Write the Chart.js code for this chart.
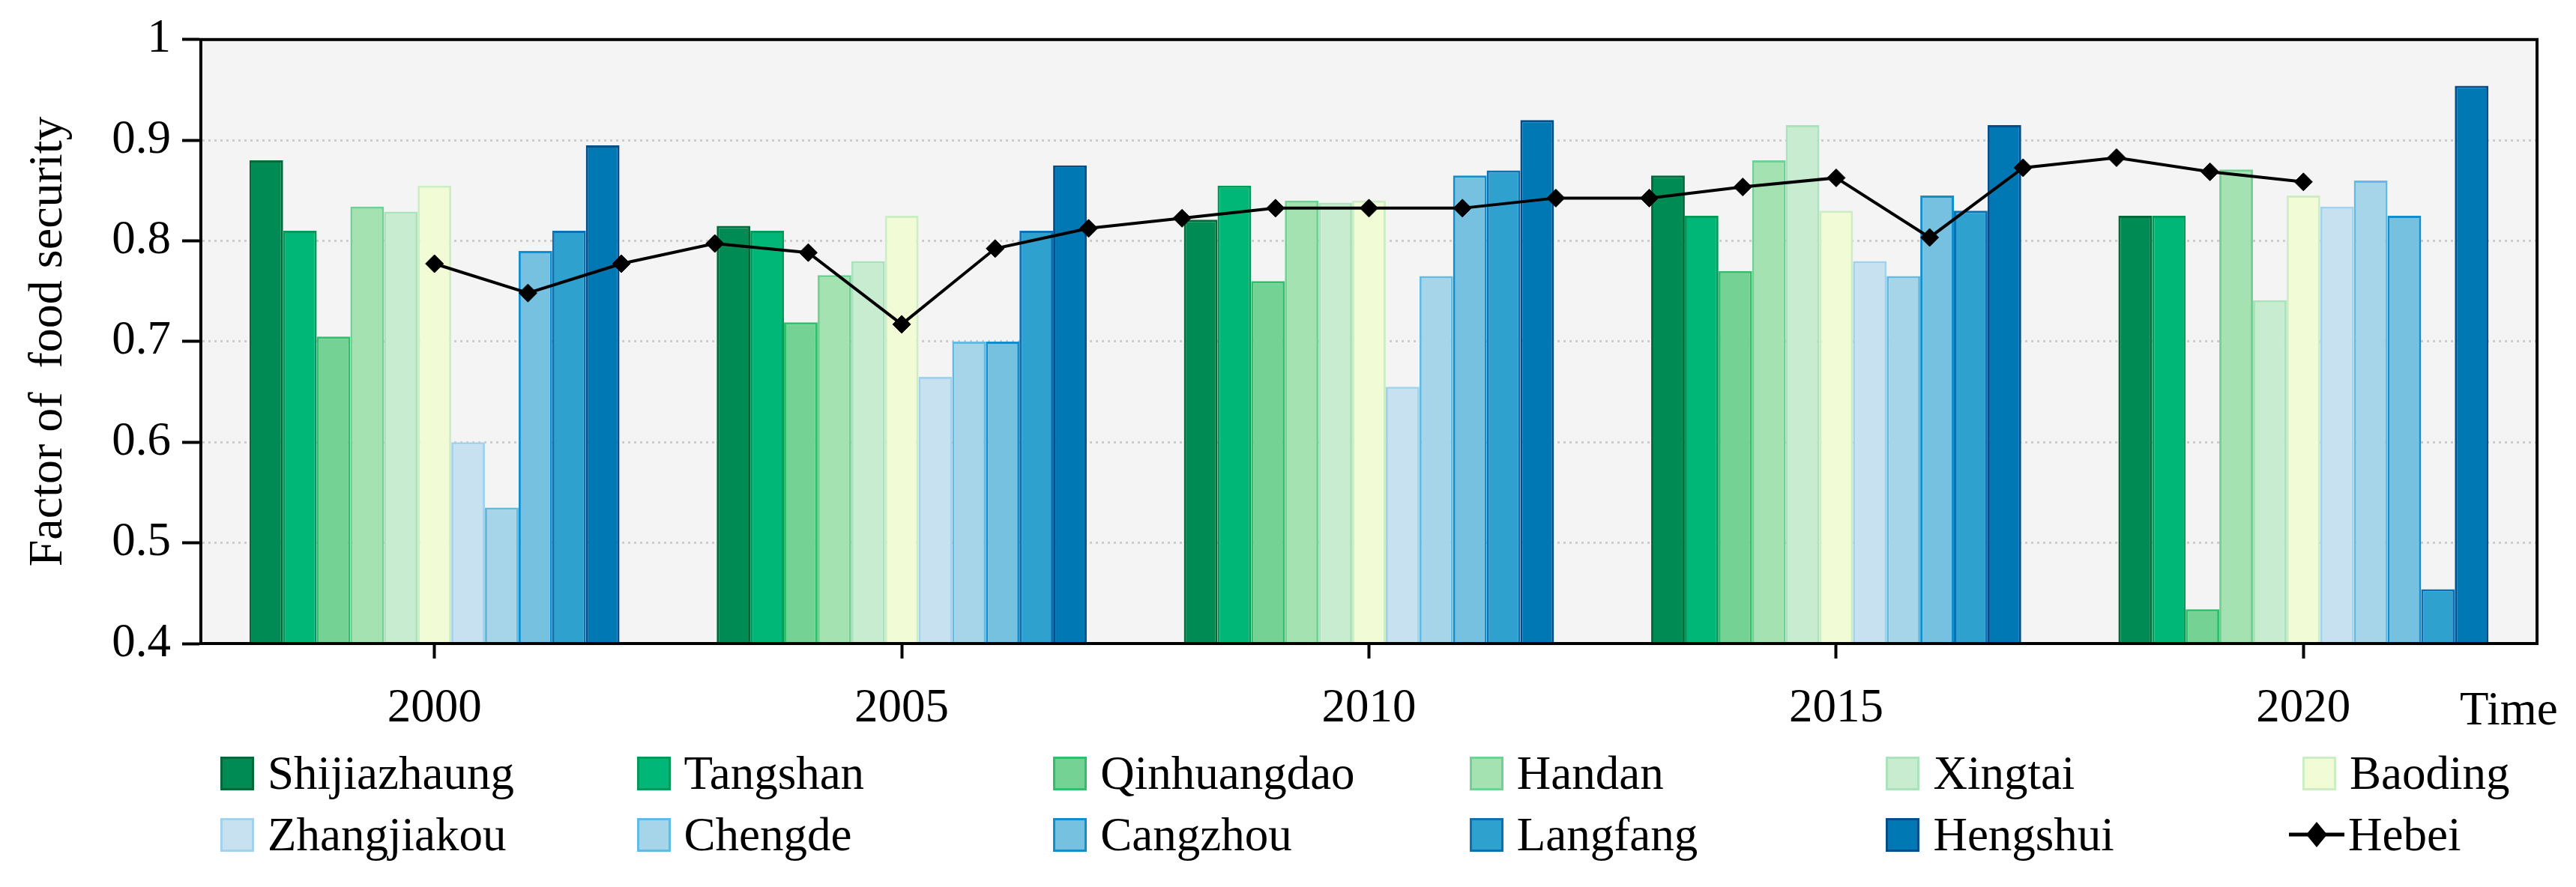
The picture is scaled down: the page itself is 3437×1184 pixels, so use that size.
<!DOCTYPE html>
<html>
<head>
<meta charset="utf-8">
<script src="https://cdn.jsdelivr.net/npm/chart.js@4.4.1/dist/chart.umd.min.js"></script>
<style>
  html, body { margin: 0; padding: 0; background: #fff; }
  #wrap { position: relative; width: 3437px; height: 1184px; overflow: hidden; }
  .layer { position: absolute; left: 0; top: 0; width: 3437px; height: 1184px; }
  #legend { pointer-events: none; font-family: "Liberation Serif", "Times New Roman", serif; font-size: 63px; color: #000; }
  .item { position: absolute; display: flex; align-items: center; height: 80px; white-space: nowrap; }
  .box { width: 45px; height: 45px; box-sizing: border-box; border: 3px solid; margin-right: 18px; }
</style>
</head>
<body>
<div id="wrap">
  <div class="layer"><canvas id="barChart"></canvas></div>
  <div class="layer"><canvas id="lineChart"></canvas></div>
  <div class="layer" id="legend"></div>
</div>
<script>
/* ── Food security factor, Hebei cities, 2000–2020 ── */
const FONT = '"Liberation Serif", "Times New Roman", serif';

const years = ["2000", "2005", "2010", "2015", "2020"];

const shijiazhaung = [0.880, 0.815, 0.821, 0.865, 0.825];
const tangshan     = [0.810, 0.810, 0.855, 0.825, 0.825];
const qinhuangdao  = [0.705, 0.719, 0.760, 0.770, 0.434];
const handan       = [0.834, 0.766, 0.840, 0.880, 0.871];
const xingtai      = [0.829, 0.780, 0.838, 0.915, 0.741];
const baoding      = [0.855, 0.825, 0.840, 0.830, 0.845];
const zhangjiakou  = [0.600, 0.665, 0.655, 0.780, 0.834];
const chengde      = [0.535, 0.700, 0.765, 0.765, 0.860];
const cangzhou     = [0.790, 0.700, 0.865, 0.845, 0.825];
const langfang     = [0.810, 0.810, 0.870, 0.830, 0.454];
const hengshui     = [0.895, 0.875, 0.920, 0.915, 0.954];

const hebeiYears = [2000, 2001, 2002, 2003, 2004, 2005, 2006, 2007, 2008, 2009, 2010,
                    2011, 2012, 2013, 2014, 2015, 2016, 2017, 2018, 2019, 2020];
const hebei = [0.776, 0.747, 0.776, 0.796, 0.787, 0.716, 0.791, 0.811, 0.821, 0.831, 0.831,
               0.831, 0.841, 0.841, 0.852, 0.861, 0.802, 0.871, 0.881, 0.867, 0.857];

const cityNames = ["Shijiazhaung", "Tangshan", "Qinhuangdao", "Handan", "Xingtai", "Baoding",
                   "Zhangjiakou", "Chengde", "Cangzhou", "Langfang", "Hengshui"];
const cityValues = [shijiazhaung, tangshan, qinhuangdao, handan, xingtai, baoding,
                    zhangjiakou, chengde, cangzhou, langfang, hengshui];

const fills   = ["#008b54", "#00b778", "#74d294", "#a4e2b2", "#c8ecd0", "#f1fcd6",
                 "#c8e1f0", "#a6d5ea", "#76c0e0", "#2fa1cf", "#0078b4"];
const borders = ["#006b38", "#009a5a", "#2fc06c", "#70d292", "#aae3bb", "#cdeec4",
                 "#a3d3ec", "#62bbe2", "#0f8fcf", "#0b70b4", "#004f8c"];

/* shared plot box: both charts use the same area */
const PAD = { left: 0, top: 50, right: 52, bottom: 0 };
const Y_AXIS_W = 268, X_AXIS_H = 325;

/* ── plot background, frame and the "Time" caption ── */
const plotDecor = {
    id: "plotDecor",
    beforeDraw(chart) {
        const a = chart.chartArea, c = chart.ctx;
        c.save();
        c.fillStyle = "#f4f4f4";
        c.fillRect(a.left, a.top, a.right - a.left, a.bottom - a.top);
        c.restore();
    },
    afterDatasetsDraw(chart) {
        const a = chart.chartArea, c = chart.ctx;
        c.save();
        c.strokeStyle = "#000";
        c.lineWidth = 4;
        c.strokeRect(a.left, a.top, a.right - a.left, a.bottom - a.top);
        c.restore();
    },
    afterDraw(chart) {
        const a = chart.chartArea, c = chart.ctx;
        c.save();
        c.fillStyle = "#000";
        c.font = "63px " + FONT;
        c.textAlign = "left";
        c.textBaseline = "alphabetic";
        c.fillText("Time", a.right - 103, a.bottom + 108);
        c.restore();
    }
};

/* ── grouped bars (own chart: mixing the yearly line in breaks bar grouping in this Chart.js build) ── */
new Chart(document.getElementById("barChart").getContext("2d"), {
    type: "bar",
    data: {
        labels: years,
        datasets: cityNames.map((name, i) => ({
            label: name, data: cityValues[i], clip: 0,
            backgroundColor: fills[i], borderColor: borders[i], borderWidth: 3,
            categoryPercentage: 0.792, barPercentage: 1.0
        }))
    },
    options: {
        responsive: true, maintainAspectRatio: false, animation: false, events: [],
        layout: { padding: PAD },
        plugins: { legend: { display: false }, tooltip: { enabled: false } },
        scales: {
            x: {
                type: "category", offset: true,
                grid: { drawOnChartArea: false, drawTicks: true, tickLength: 20, tickColor: "#000", tickWidth: 4, offset: false },
                border: { color: "#000", width: 4 },
                ticks: { color: "#000", font: { family: FONT, size: 63 }, padding: 30, maxRotation: 0, autoSkip: false },
                afterFit(s) { s.height = X_AXIS_H; }
            },
            y: {
                min: 0.4, max: 1,
                ticks: { stepSize: 0.1, color: "#000", font: { family: FONT, size: 63 }, padding: 15,
                         callback: v => String(+v.toFixed(1)) },
                grid: {
                    color: c => (c.tick && (c.tick.value < 0.41 || c.tick.value > 0.99)) ? "rgba(0,0,0,0)" : "#cdcdcd",
                    lineWidth: 3, tickLength: 25, tickColor: "#000", tickWidth: 4
                },
                border: { color: "#000", width: 4, dash: [3, 5] },
                title: { display: true, text: "Factor of  food security", color: "#000",
                         font: { family: FONT, size: 64 }, padding: { top: 27, bottom: 0 } },
                afterFit(s) { s.width = Y_AXIS_W; }
            }
        }
    },
    plugins: [plotDecor]
});

/* ── Hebei yearly line, same plot box, hidden axes ── */
new Chart(document.getElementById("lineChart").getContext("2d"), {
    type: "line",
    data: {
        datasets: [{
            label: "Hebei",
            data: hebeiYears.map((y, i) => ({ x: y, y: hebei[i] })),
            borderColor: "#000", backgroundColor: "#000", borderWidth: 4, tension: 0,
            pointStyle: "rectRot", pointRadius: 12, pointBorderWidth: 1
        }]
    },
    options: {
        responsive: true, maintainAspectRatio: false, animation: false, events: [],
        layout: { padding: { left: PAD.left + Y_AXIS_W, top: PAD.top, right: PAD.right, bottom: PAD.bottom + X_AXIS_H } },
        plugins: { legend: { display: false }, tooltip: { enabled: false } },
        scales: {
            x: { type: "linear", display: false, offset: false, min: 1997.5, max: 2022.5 },
            y: { type: "linear", display: false, min: 0.4, max: 1 }
        }
    }
});

/* ── legend: 6 fixed columns, 2 rows ── */
(function buildLegend() {
    const host = document.getElementById("legend");
    const names = cityNames.concat(["Hebei"]);
    names.forEach((name, i) => {
        const col = i % 6, row = Math.floor(i / 6);
        const item = document.createElement("div");
        item.className = "item";
        item.style.left = (294 + col * 555.6) + "px";
        item.style.top = (row === 0 ? 992 : 1074) + "px";
        if (i < cityNames.length) {
            const box = document.createElement("span");
            box.className = "box";
            box.style.background = fills[i];
            box.style.borderColor = borders[i];
            item.appendChild(box);
        } else {
            const ns = "http://www.w3.org/2000/svg";
            const svg = document.createElementNS(ns, "svg");
            svg.setAttribute("width", "74");
            svg.setAttribute("height", "40");
            svg.style.marginLeft = "-18px";
            svg.style.marginRight = "5px";
            svg.innerHTML = '<line x1="0" y1="20" x2="74" y2="20" stroke="#000" stroke-width="5"/>' +
                            '<polygon points="37,3 51,20 37,37 23,20" fill="#000"/>';
            item.appendChild(svg);
        }
        const label = document.createElement("span");
        label.textContent = name;
        item.appendChild(label);
        host.appendChild(item);
    });
})();
</script>
</body>
</html>
